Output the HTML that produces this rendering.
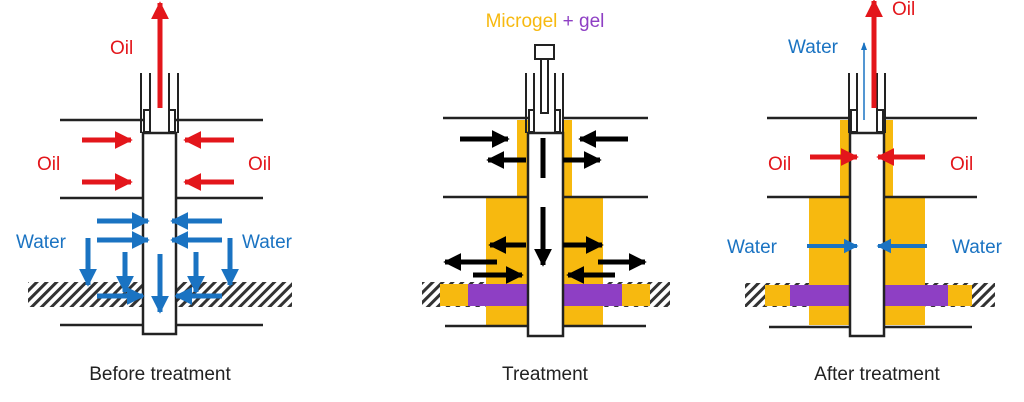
<!DOCTYPE html>
<html><head><meta charset="utf-8"><style>
html,body{margin:0;padding:0;background:#fff;}
svg{display:block;}
text{font-family:"Liberation Sans",sans-serif;}
</style></head><body>
<svg width="1024" height="402" viewBox="0 0 1024 402" xmlns="http://www.w3.org/2000/svg">
<defs>
<pattern id="h" patternUnits="userSpaceOnUse" width="7" height="7" patternTransform="rotate(45)">
<rect width="7" height="7" fill="#fff"/><rect width="3" height="7" fill="#333"/>
</pattern>
<marker id="r" markerUnits="strokeWidth" markerWidth="3.6" markerHeight="4" refX="9" refY="5" viewBox="0 0 10 10" orient="auto"><path d="M0,0L10,5L0,10z" fill="#e3161b"/></marker>
<marker id="b" markerUnits="strokeWidth" markerWidth="3.6" markerHeight="4" refX="9" refY="5" viewBox="0 0 10 10" orient="auto"><path d="M0,0L10,5L0,10z" fill="#1a73c2"/></marker>
<marker id="k" markerUnits="strokeWidth" markerWidth="3.6" markerHeight="4" refX="9" refY="5" viewBox="0 0 10 10" orient="auto"><path d="M0,0L10,5L0,10z" fill="#000"/></marker>
</defs>

<!-- ========== PANEL 1 ========== -->
<rect x="28" y="282" width="264" height="25" fill="url(#h)"/>
<g stroke="#222" stroke-width="2.5" fill="none">
<line x1="60" y1="120" x2="143" y2="120"/><line x1="176" y1="120" x2="263" y2="120"/>
<line x1="60" y1="198" x2="143" y2="198"/><line x1="176" y1="198" x2="263" y2="198"/>
<line x1="60" y1="325" x2="143" y2="325"/><line x1="176" y1="325" x2="263" y2="325"/>
</g>
<rect x="143" y="133" width="33" height="201" fill="#fff" stroke="#222" stroke-width="2.5"/>
<g stroke="#222" stroke-width="2" fill="#fff">
<line x1="141" y1="73" x2="141" y2="133"/><line x1="150" y1="73" x2="150" y2="110"/>
<rect x="144" y="110" width="6" height="22"/>
<line x1="178" y1="73" x2="178" y2="133"/><line x1="169" y1="73" x2="169" y2="110"/>
<rect x="169" y="110" width="6" height="22"/>
</g>
<g stroke="#e3161b" stroke-width="5">
<line x1="160" y1="108" x2="160" y2="3" marker-end="url(#r)"/>
<line x1="82" y1="140" x2="131" y2="140" marker-end="url(#r)"/>
<line x1="82" y1="182" x2="131" y2="182" marker-end="url(#r)"/>
<line x1="234" y1="140" x2="185" y2="140" marker-end="url(#r)"/>
<line x1="234" y1="182" x2="185" y2="182" marker-end="url(#r)"/>
</g>
<g stroke="#1a73c2" stroke-width="5">
<line x1="97" y1="221" x2="148" y2="221" marker-end="url(#b)"/>
<line x1="97" y1="240" x2="148" y2="240" marker-end="url(#b)"/>
<line x1="222" y1="221" x2="172" y2="221" marker-end="url(#b)"/>
<line x1="222" y1="240" x2="172" y2="240" marker-end="url(#b)"/>
<line x1="88" y1="238" x2="88" y2="285" marker-end="url(#b)"/>
<line x1="125" y1="252" x2="125" y2="292" marker-end="url(#b)"/>
<line x1="196" y1="252" x2="196" y2="292" marker-end="url(#b)"/>
<line x1="230" y1="238" x2="230" y2="285" marker-end="url(#b)"/>
<line x1="160" y1="254" x2="160" y2="312" marker-end="url(#b)"/>
<line x1="97" y1="296" x2="143" y2="296" marker-end="url(#b)"/>
<line x1="222" y1="296" x2="176" y2="296" marker-end="url(#b)"/>
</g>
<g font-size="19" fill="#e3161b">
<text x="110" y="54">Oil</text><text x="37" y="170">Oil</text><text x="248" y="170">Oil</text>
</g>
<g font-size="19" fill="#1a73c2">
<text x="16" y="248">Water</text><text x="242" y="248">Water</text>
</g>
<text x="160" y="380" font-size="19" fill="#222" text-anchor="middle">Before treatment</text>

<!-- ========== PANEL 2 ========== -->
<rect x="422" y="282" width="248" height="25" fill="url(#h)"/>
<rect x="517" y="120" width="11" height="80" fill="#f7b90f"/>
<rect x="563" y="120" width="9" height="80" fill="#f7b90f"/>
<rect x="486" y="198" width="42" height="127" fill="#f7b90f"/>
<rect x="563" y="198" width="40" height="127" fill="#f7b90f"/>
<rect x="440" y="284" width="88" height="22" fill="#f7b90f"/>
<rect x="563" y="284" width="87" height="22" fill="#f7b90f"/>
<rect x="468" y="284" width="60" height="22" fill="#8e3fc4"/>
<rect x="563" y="284" width="59" height="22" fill="#8e3fc4"/>
<g stroke="#222" stroke-width="2.5" fill="none">
<line x1="443" y1="118" x2="528" y2="118"/><line x1="563" y1="118" x2="648" y2="118"/>
<line x1="443" y1="197" x2="528" y2="197"/><line x1="563" y1="197" x2="648" y2="197"/>
<line x1="445" y1="326" x2="528" y2="326"/><line x1="563" y1="326" x2="646" y2="326"/>
</g>
<rect x="528" y="133" width="35" height="203" fill="#fff" stroke="#222" stroke-width="2.5"/>
<g stroke="#222" stroke-width="2" fill="#fff">
<line x1="526" y1="73" x2="526" y2="133"/><line x1="534" y1="73" x2="534" y2="110"/>
<rect x="529" y="110" width="5" height="22"/>
<line x1="563" y1="73" x2="563" y2="133"/><line x1="555" y1="73" x2="555" y2="110"/>
<rect x="555" y="110" width="5" height="22"/>
<rect x="541" y="58" width="7" height="55"/>
<rect x="535" y="45" width="19" height="14"/>
</g>
<g stroke="#000" stroke-width="5">
<line x1="460" y1="139" x2="508" y2="139" marker-end="url(#k)"/>
<line x1="628" y1="139" x2="580" y2="139" marker-end="url(#k)"/>
<line x1="526" y1="160" x2="488" y2="160" marker-end="url(#k)"/>
<line x1="563" y1="160" x2="600" y2="160" marker-end="url(#k)"/>
<line x1="543" y1="138" x2="543" y2="178"/>
<line x1="543" y1="207" x2="543" y2="265" marker-end="url(#k)"/>
<line x1="526" y1="245" x2="490" y2="245" marker-end="url(#k)"/>
<line x1="563" y1="245" x2="602" y2="245" marker-end="url(#k)"/>
<line x1="497" y1="262" x2="445" y2="262" marker-end="url(#k)"/>
<line x1="598" y1="262" x2="645" y2="262" marker-end="url(#k)"/>
<line x1="473" y1="275" x2="522" y2="275" marker-end="url(#k)"/>
<line x1="615" y1="275" x2="568" y2="275" marker-end="url(#k)"/>
</g>
<text x="545" y="27" font-size="19" text-anchor="middle"><tspan fill="#f7b90f">Microgel</tspan><tspan fill="#8e3fc4"> + gel</tspan></text>
<text x="545" y="380" font-size="19" fill="#222" text-anchor="middle">Treatment</text>

<!-- ========== PANEL 3 ========== -->
<rect x="745" y="283" width="250" height="24" fill="url(#h)"/>
<rect x="840" y="120" width="10" height="80" fill="#f7b90f"/>
<rect x="884" y="120" width="9" height="80" fill="#f7b90f"/>
<rect x="809" y="198" width="41" height="127" fill="#f7b90f"/>
<rect x="884" y="198" width="41" height="127" fill="#f7b90f"/>
<rect x="765" y="285" width="85" height="21" fill="#f7b90f"/>
<rect x="884" y="285" width="88" height="21" fill="#f7b90f"/>
<rect x="790" y="285" width="60" height="21" fill="#8e3fc4"/>
<rect x="884" y="285" width="64" height="21" fill="#8e3fc4"/>
<g stroke="#222" stroke-width="2.5" fill="none">
<line x1="767" y1="118" x2="850" y2="118"/><line x1="884" y1="118" x2="977" y2="118"/>
<line x1="767" y1="197" x2="850" y2="197"/><line x1="884" y1="197" x2="977" y2="197"/>
<line x1="769" y1="327" x2="850" y2="327"/><line x1="884" y1="327" x2="972" y2="327"/>
</g>
<rect x="850" y="133" width="34" height="203" fill="#fff" stroke="#222" stroke-width="2.5"/>
<g stroke="#222" stroke-width="2" fill="#fff">
<line x1="849" y1="73" x2="849" y2="133"/><line x1="857" y1="73" x2="857" y2="110"/>
<rect x="851" y="110" width="6" height="22"/>
<line x1="885" y1="73" x2="885" y2="133"/><line x1="877" y1="73" x2="877" y2="110"/>
<rect x="877" y="110" width="6" height="22"/>
</g>
<line x1="874" y1="108" x2="874" y2="1" stroke="#e3161b" stroke-width="5" marker-end="url(#r)"/>
<line x1="864" y1="120" x2="864" y2="43" stroke="#1a73c2" stroke-width="1.5"/>
<path d="M861,50L864,42L867,50z" fill="#1a73c2"/>
<g stroke="#e3161b" stroke-width="5">
<line x1="810" y1="157" x2="857" y2="157" marker-end="url(#r)"/>
<line x1="925" y1="157" x2="878" y2="157" marker-end="url(#r)"/>
</g>
<g stroke="#1a73c2" stroke-width="4">
<line x1="807" y1="246" x2="857" y2="246" marker-end="url(#b)"/>
<line x1="927" y1="246" x2="878" y2="246" marker-end="url(#b)"/>
</g>
<g font-size="19" fill="#e3161b">
<text x="892" y="15">Oil</text><text x="768" y="170">Oil</text><text x="950" y="170">Oil</text>
</g>
<g font-size="19" fill="#1a73c2">
<text x="788" y="53">Water</text><text x="727" y="253">Water</text><text x="952" y="253">Water</text>
</g>
<text x="877" y="380" font-size="19" fill="#222" text-anchor="middle">After treatment</text>
</svg>
</body></html>
